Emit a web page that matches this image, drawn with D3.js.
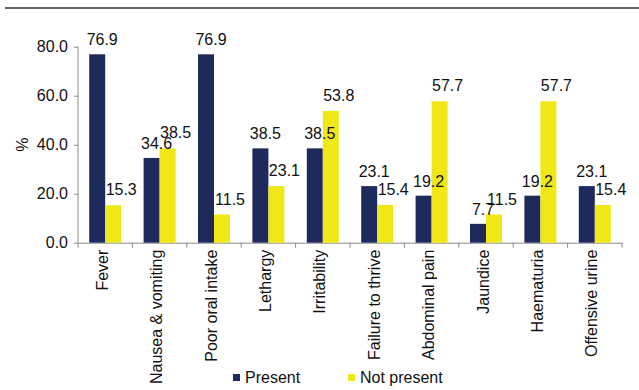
<!DOCTYPE html>
<html>
<head>
<meta charset="utf-8">
<script src="https://d3js.org/d3.v7.min.js"></script>
<style>
  body { margin: 0; background: #fff; }
  text { font-family: "Liberation Sans", Arial, sans-serif; fill: #111; }
</style>
</head>
<body>
<svg id="chart" width="639" height="390"></svg>
<script>
// chart data
var categories = ["Fever", "Nausea & vomiting", "Poor oral intake", "Lethargy", "Irritability",
  "Failure to thrive", "Abdominal pain", "Jaundice", "Haematuria", "Offensive urine"];
var present = [76.9, 34.6, 76.9, 38.5, 38.5, 23.1, 19.2, 7.7, 19.2, 23.1];
var notPresent = [15.3, 38.5, 11.5, 23.1, 53.8, 15.4, 57.7, 11.5, 57.7, 15.4];
var yTicks = [0, 20, 40, 60, 80];
var seriesNames = ["Present", "Not present"];
var colors = ["#1f2a5c", "#f0e816"];

var svg = d3.select("#chart");

// rule across the top
svg.append("line")
  .attr("x1", 5).attr("x2", 639)
  .attr("y1", 8).attr("y2", 8)
  .style("stroke", "#333").style("stroke-width", 1.5);

var plotL = 78, plotR = 622, plotT = 46.7, plotB = 242.7;

var x = d3.scaleBand().domain(categories).range([plotL, plotR]);
var y = d3.scaleLinear().domain([0, 80]).range([plotB, plotT]);
var barW = 16;
// label nudges (right, up) per series, as in the original
var labelDx = [5, 8], labelGap = [9, 10];

// y axis
var yAxis = svg.append("g")
  .attr("transform", "translate(" + plotL + ",0)")
  .call(d3.axisLeft(y).tickValues(yTicks).tickFormat(d3.format(".1f")).tickSize(4).tickPadding(6));
yAxis.select(".domain").attr("d", "M0," + plotT + "V" + plotB);

// x axis
var xAxis = svg.append("g")
  .attr("transform", "translate(0," + plotB + ")")
  .call(d3.axisBottom(x).tickValues([]).tickSizeOuter(0));
xAxis.selectAll(".tk")
  .data(d3.range(categories.length + 1))
  .enter().append("line")
  .attr("class", "tk")
  .attr("x1", function(i) { return plotL + i * x.step(); })
  .attr("x2", function(i) { return plotL + i * x.step(); })
  .attr("y1", 0).attr("y2", 5);

svg.selectAll(".domain, .tick line, .tk").style("stroke", "#8a8a8a");
svg.selectAll(".tick text").style("font-size", "16px").style("fill", "#111")
  .style("font-family", "'Liberation Sans', Arial, sans-serif");

// category labels
svg.append("g").selectAll("text")
  .data(categories)
  .enter().append("text")
  .attr("transform", function(d) {
    return "translate(" + (x(d) + x.bandwidth() / 2 - 3) + "," + (plotB + 7) + ") rotate(-90)";
  })
  .attr("dy", "0.35em")
  .attr("text-anchor", "end")
  .style("font-size", "16px")
  .text(function(d) { return d; });

// % label
svg.append("text")
  .attr("transform", "translate(22," + ((plotT + plotB) / 2) + ") rotate(-90)")
  .attr("dy", "0.35em")
  .attr("text-anchor", "middle")
  .style("font-size", "16px")
  .text("%");

function barX(i, s) {
  return x(categories[i]) + x.bandwidth() / 2 - barW + s * barW;
}

// bars first, then labels on top
var series = [present, notPresent];
series.forEach(function(vals, s) {
  svg.append("g").selectAll("rect")
    .data(vals)
    .enter().append("rect")
    .attr("x", function(d, i) { return barX(i, s); })
    .attr("width", barW)
    .attr("y", function(d) { return y(d); })
    .attr("height", function(d) { return plotB - y(d); })
    .style("fill", colors[s]);
});
series.forEach(function(vals, s) {
  svg.append("g").selectAll("text")
    .data(vals)
    .enter().append("text")
    .attr("x", function(d, i) { return barX(i, s) + barW / 2 + labelDx[s]; })
    .attr("y", function(d) { return y(d) - labelGap[s]; })
    .attr("text-anchor", "middle")
    .style("font-size", "16px")
    .text(function(d) { return d.toFixed(1); });
});

// legend
var legendX = [233, 348];
var legend = svg.append("g").selectAll("g")
  .data(seriesNames)
  .enter().append("g")
  .attr("transform", function(d, i) { return "translate(" + legendX[i] + ",377)"; });
legend.append("rect")
  .attr("x", 0).attr("y", -3)
  .attr("width", 7).attr("height", 7)
  .style("fill", function(d, i) { return colors[i]; });
legend.append("text")
  .attr("x", 12)
  .attr("dy", "0.35em")
  .style("font-size", "16px")
  .text(function(d) { return d; });
</script>
</body>
</html>
